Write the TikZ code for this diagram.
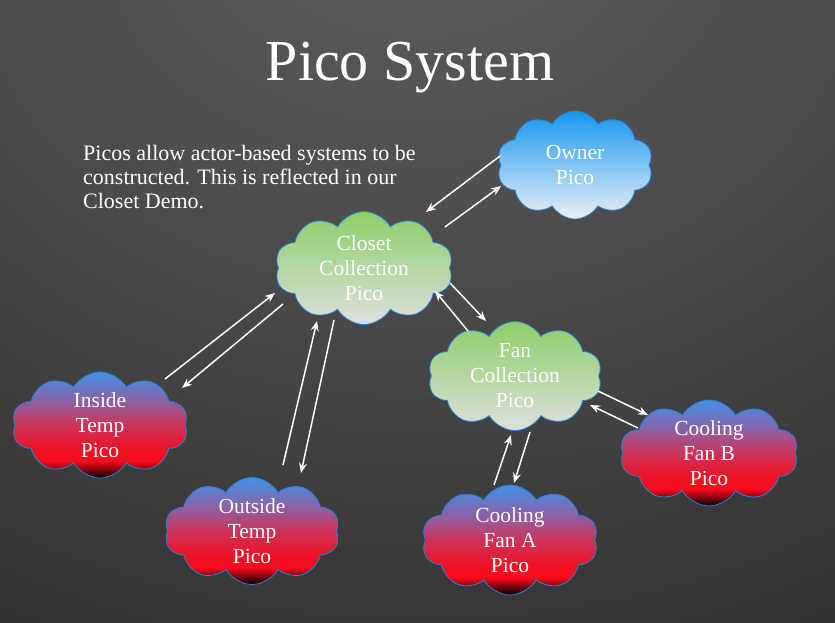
\documentclass[tikz,border=0pt]{standalone}
\usepackage{fontspec}
\setmainfont{Liberation Serif}
\usetikzlibrary{shapes.symbols,calc,arrows.meta}

% colours of the slide and of the three kinds of pico
\definecolor{bgmid}{RGB}{96,96,96}
\definecolor{bgin}{RGB}{78,78,78}
\definecolor{bgout}{RGB}{48,48,48}
\definecolor{bgedge}{RGB}{36,36,36}
\definecolor{skytop}{RGB}{22,150,240}
\definecolor{skybot}{RGB}{236,240,245}
\definecolor{leaftop}{RGB}{140,206,104}
\definecolor{leafbot}{RGB}{222,224,222}
\definecolor{hotA}{RGB}{66,146,232}
\definecolor{hotB}{RGB}{135,100,170}
\definecolor{hotC}{RGB}{200,55,95}
\definecolor{hotD}{RGB}{238,18,38}
\definecolor{hotE}{RGB}{250,10,28}
\definecolor{hotF}{RGB}{0,0,0}
\definecolor{rim}{RGB}{40,130,215}

\pgfdeclareradialshading{slidebg}{\pgfpoint{0bp}{38bp}}{%
  color(0bp)=(bgmid); color(22bp)=(bgin); color(52bp)=(bgout); color(100bp)=(bgedge)}
\pgfdeclareverticalshading{skyshade}{100bp}{%
  color(0bp)=(skybot); color(25bp)=(skybot); color(75bp)=(skytop); color(100bp)=(skytop)}
\pgfdeclareverticalshading{leafshade}{100bp}{%
  color(0bp)=(leafbot); color(25bp)=(leafbot); color(75bp)=(leaftop); color(100bp)=(leaftop)}
\pgfdeclareverticalshading{hotshade}{100bp}{%
  color(0bp)=(hotF); color(25bp)=(hotF); color(33bp)=(hotE); color(39bp)=(hotD);
  color(51bp)=(hotC); color(62bp)=(hotB); color(75bp)=(hotA); color(100bp)=(hotA)}

\tikzset{
  pico/.style={cloud, cloud puffs=10, cloud puff arc=120, cloud ignores aspect,
    draw=rim, line width=0.8pt, inner sep=0pt, align=center, text=white,
    font=\fontsize{21.5}{25}\selectfont},
  owner/.style={pico, shading=skyshade},
  coll/.style={pico, shading=leafshade},
  dev/.style={pico, shading=hotshade},
  msg/.style={draw=white, line width=1.5pt, -{Stealth[length=10pt,width=8pt]}},
  slidetext/.style={text=white, inner sep=0pt}
}

\begin{document}
\begin{tikzpicture}[x=1pt, y=-1pt]
  % slide background
  \shade[shading=slidebg] (0,0) rectangle (835,622);
  \useasboundingbox (0,0) rectangle (835,622);

  % title and caption
  \node[slidetext, font=\fontsize{58}{60}\selectfont, anchor=base] (title) at (410,80) {Pico System};
  \node[slidetext, font=\fontsize{22}{24}\selectfont, anchor=north west, align=left] (caption) at (83,145)
    {Picos allow actor-based systems to be\\constructed. This is reflected in our\\Closet Demo.};

  % picos
  \node[owner, minimum width=156, minimum height=108] (own) at (575,165) {Owner\\Pico};
  \node[coll, minimum width=178, minimum height=113] (clo) at (364,268) {Closet\\Collection\\Pico};
  \node[coll, minimum width=174, minimum height=108] (fan) at (515,376) {Fan\\Collection\\Pico};
  \node[dev, minimum width=176, minimum height=106] (ins) at (100,425) {Inside\\Temp\\Pico};
  \node[dev, minimum width=175, minimum height=107] (out) at (252,531) {Outside\\Temp\\Pico};
  \node[dev, minimum width=176, minimum height=110] (cfa) at (510,540) {Cooling\\Fan A\\Pico};
  \node[dev, minimum width=178, minimum height=106] (cfb) at (709,453) {Cooling\\Fan B\\Pico};

  % message channels, one arrow each way
  \draw[msg] ($(own)+(-75,-9)$) -- ($(clo)+(62,-56)$);
  \draw[msg] ($(clo)+(81,-41)$) -- ($(own)+(-74,21)$);

  \draw[msg] ($(ins)+(65,-46)$) -- ($(clo)+(-89,25)$);
  \draw[msg] ($(clo)+(-81,36)$) -- ($(ins)+(82,-37)$);

  \draw[msg] ($(out)+(31,-66)$) -- ($(clo)+(-47,53)$);
  \draw[msg] ($(clo)+(-30,52)$) -- ($(out)+(49,-58)$);

  \draw[msg] ($(clo)+(86,15)$) -- ($(fan)+(-29,-55)$);
  \draw[msg] ($(fan)+(-47,-45)$) -- ($(clo)+(71,23)$);

  \draw[msg] ($(cfa)+(-16,-55)$) -- ($(fan)+(-4,59)$);
  \draw[msg] ($(fan)+(15,56)$) -- ($(cfa)+(4,-57)$);

  \draw[msg] ($(fan)+(83,15)$) -- ($(cfb)+(-61,-38)$);
  \draw[msg] ($(cfb)+(-71,-25)$) -- ($(fan)+(75,29)$);
\end{tikzpicture}
\end{document}
